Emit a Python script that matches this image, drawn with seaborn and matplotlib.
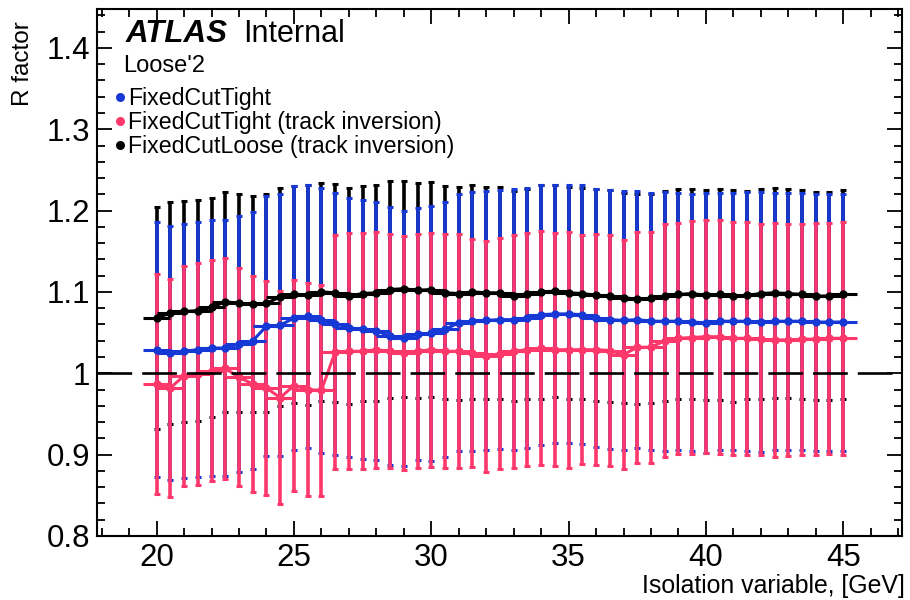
import matplotlib
matplotlib.use("Agg")
import matplotlib.pyplot as plt
from matplotlib.lines import Line2D
from matplotlib.ticker import MultipleLocator, FuncFormatter
import numpy as np
import pandas as pd
import seaborn as sns

# Bin centres of the isolation variable [GeV]
iso_gev = [20.0, 20.5, 21.0, 21.5, 22.0, 22.5, 23.0, 23.5, 24.0, 24.5,
           25.0, 25.5, 26.0, 26.5, 27.0, 27.5, 28.0, 28.5, 29.0, 29.5,
           30.0, 30.5, 31.0, 31.5, 32.0, 32.5, 33.0, 33.5, 34.0, 34.5,
           35.0, 35.5, 36.0, 36.5, 37.0, 37.5, 38.0, 38.5, 39.0, 39.5,
           40.0, 40.5, 41.0, 41.5, 42.0, 42.5, 43.0, 43.5, 44.0, 44.5, 45.0]
bin_half_width = 0.5

# FixedCutTight
tight_r = [1.029, 1.025, 1.027, 1.029, 1.031, 1.031, 1.036, 1.040, 1.058, 1.059,
           1.068, 1.070, 1.065, 1.061, 1.056, 1.054, 1.052, 1.046, 1.043, 1.048,
           1.049, 1.054, 1.062, 1.064, 1.065, 1.066, 1.066, 1.068, 1.072, 1.073,
           1.073, 1.072, 1.068, 1.066, 1.065, 1.066, 1.064, 1.064, 1.064, 1.063,
           1.062, 1.064, 1.064, 1.064, 1.063, 1.064, 1.064, 1.064, 1.063, 1.063, 1.063]
tight_err = [0.157, 0.156, 0.156, 0.157, 0.157, 0.157, 0.157, 0.158, 0.160, 0.161,
             0.162, 0.162, 0.163, 0.161, 0.159, 0.159, 0.158, 0.159, 0.157, 0.155,
             0.157, 0.157, 0.158, 0.159, 0.159, 0.159, 0.160, 0.160, 0.160, 0.159,
             0.159, 0.159, 0.159, 0.159, 0.159, 0.158, 0.158, 0.159, 0.158, 0.158,
             0.160, 0.158, 0.158, 0.159, 0.160, 0.158, 0.158, 0.158, 0.158, 0.158, 0.158]

# FixedCutTight (track inversion)
tight_inv_r = [0.987, 0.982, 0.997, 0.999, 1.003, 1.006, 0.995, 0.987, 0.982, 0.970,
               0.985, 0.980, 0.979, 1.026, 1.027, 1.027, 1.029, 1.027, 1.025, 1.027,
               1.029, 1.027, 1.027, 1.025, 1.021, 1.024, 1.027, 1.029, 1.031, 1.029,
               1.029, 1.029, 1.029, 1.028, 1.023, 1.032, 1.032, 1.040, 1.043, 1.044,
               1.045, 1.045, 1.043, 1.043, 1.042, 1.041, 1.041, 1.042, 1.042, 1.043, 1.043]
tight_inv_err = [0.135, 0.134, 0.135, 0.136, 0.136, 0.136, 0.134, 0.133, 0.132, 0.131,
                 0.130, 0.131, 0.130, 0.144, 0.145, 0.145, 0.145, 0.144, 0.144, 0.144,
                 0.144, 0.144, 0.144, 0.140, 0.142, 0.142, 0.143, 0.143, 0.144, 0.143,
                 0.145, 0.141, 0.142, 0.142, 0.141, 0.142, 0.142, 0.143, 0.142, 0.143,
                 0.143, 0.144, 0.143, 0.143, 0.142, 0.144, 0.143, 0.142, 0.143, 0.142, 0.143]

# FixedCutLoose (track inversion)
loose_inv_r = [1.068, 1.074, 1.076, 1.077, 1.081, 1.088, 1.086, 1.085, 1.086, 1.094,
               1.097, 1.096, 1.100, 1.099, 1.095, 1.098, 1.099, 1.103, 1.104, 1.102,
               1.103, 1.099, 1.098, 1.100, 1.099, 1.099, 1.095, 1.097, 1.100, 1.101,
               1.099, 1.098, 1.096, 1.095, 1.093, 1.091, 1.092, 1.095, 1.097, 1.098,
               1.096, 1.097, 1.095, 1.096, 1.098, 1.099, 1.098, 1.097, 1.095, 1.095, 1.097]
loose_inv_err = [0.136, 0.136, 0.136, 0.136, 0.135, 0.135, 0.134, 0.133, 0.134, 0.134,
                 0.133, 0.135, 0.134, 0.134, 0.133, 0.132, 0.133, 0.133, 0.133, 0.132,
                 0.132, 0.131, 0.131, 0.131, 0.130, 0.130, 0.129, 0.129, 0.131, 0.130,
                 0.130, 0.130, 0.130, 0.130, 0.129, 0.129, 0.129, 0.129, 0.129, 0.129,
                 0.129, 0.130, 0.130, 0.128, 0.129, 0.129, 0.128, 0.128, 0.128, 0.128, 0.128]

labels = ["FixedCutTight", "FixedCutTight (track inversion)", "FixedCutLoose (track inversion)"]
colors = {"FixedCutTight": "#1638d4",
          "FixedCutTight (track inversion)": "#ff386c",
          "FixedCutLoose (track inversion)": "#000000"}

frames = []
for name, r, e in [(labels[0], tight_r, tight_err),
                   (labels[1], tight_inv_r, tight_inv_err),
                   (labels[2], loose_inv_r, loose_inv_err)]:
    frames.append(pd.DataFrame({"iso": iso_gev, "R": r, "err": e, "sel": name}))
df = pd.concat(frames, ignore_index=True)

sns.set_theme(style="ticks")
plt.rcParams["font.family"] = ["Liberation Sans", "DejaVu Sans"]
plt.rcParams["lines.scale_dashes"] = False
plt.rcParams["text.color"] = "black"
plt.rcParams["axes.labelcolor"] = "black"
plt.rcParams["xtick.color"] = "black"
plt.rcParams["ytick.color"] = "black"

fig = plt.figure(figsize=(9.1, 6.0), dpi=100)
ax = fig.add_axes([0.1066, 0.1067, 0.8846, 0.8778])

# Vertical error bars: loose first, then tight, inverted tight on top
draw_order = [labels[2], labels[0], labels[1]]
for z, name in enumerate(draw_order):
    sub = df[df["sel"] == name]
    ax.errorbar(sub["iso"], sub["R"], yerr=sub["err"], fmt="none",
                ecolor=colors[name], elinewidth=2.6, capsize=1.9, capthick=2.2,
                zorder=2 + z)
    ax.errorbar(sub["iso"], sub["R"], xerr=bin_half_width, fmt="none",
                ecolor=colors[name], elinewidth=2.2, capsize=0, zorder=6 + z)

# Central values with connecting lines
sns.lineplot(data=df, x="iso", y="R", hue="sel", hue_order=draw_order,
             palette=colors, estimator=None, sort=False, marker="o",
             markersize=6, markeredgewidth=0, linewidth=2.2,
             legend=False, ax=ax, zorder=9)

# Reference line at R = 1
ax.axhline(1.0, color="black", linewidth=1.9, linestyle=(0, (25, 7.2)), zorder=10)

ax.set_xlim(17.83, 47.14)
ax.set_ylim(0.8, 1.4475)
ax.xaxis.set_major_locator(MultipleLocator(5))
ax.xaxis.set_minor_locator(MultipleLocator(1))
ax.yaxis.set_major_locator(MultipleLocator(0.1))
ax.yaxis.set_minor_locator(MultipleLocator(0.02))
ax.yaxis.set_major_formatter(FuncFormatter(lambda v, p: "%g" % round(v, 3)))
ax.tick_params(which="both", direction="in", top=True, right=True,
               width=1.3, colors="black", labelsize=22.5)
ax.tick_params(which="major", length=11, pad=5)
ax.tick_params(which="minor", length=5.5)
ax.set_xlabel("")
ax.set_ylabel("")
for sp in ax.spines.values():
    sp.set_linewidth(1.5)
    sp.set_color("black")

fig.text(905 / 910, 1 - 593 / 600, "Isolation variable, [GeV]", ha="right",
         va="baseline", fontsize=17.9, color="black")
fig.text(23 / 910, 1 - 21 / 600, "R factor", ha="center", va="top",
         rotation=90, fontsize=17.5, color="black")

ax.text(0.035, 0.938, "ATLAS", transform=ax.transAxes, fontsize=22.5,
        fontweight="bold", fontstyle="italic", va="baseline", ha="left",
        color="black")
ax.text(0.181, 0.938, "Internal", transform=ax.transAxes, fontsize=22,
        va="baseline", ha="left", color="black")
ax.text(0.032, 0.881, "Loose'2", transform=ax.transAxes, fontsize=17,
        va="baseline", ha="left", color="black")

handles = [Line2D([], [], linestyle="none", marker="o", markersize=6.5,
                  markeredgewidth=0, color=colors[n]) for n in labels]
leg = ax.legend(handles, labels, loc="upper left", bbox_to_anchor=(0.022, 0.853),
                frameon=False, handlelength=0.45, handletextpad=0.12,
                labelspacing=0.05, borderaxespad=0, borderpad=0, fontsize=16.7)
for t in leg.get_texts():
    t.set_color("black")

fig.savefig("out.png", dpi=100)
